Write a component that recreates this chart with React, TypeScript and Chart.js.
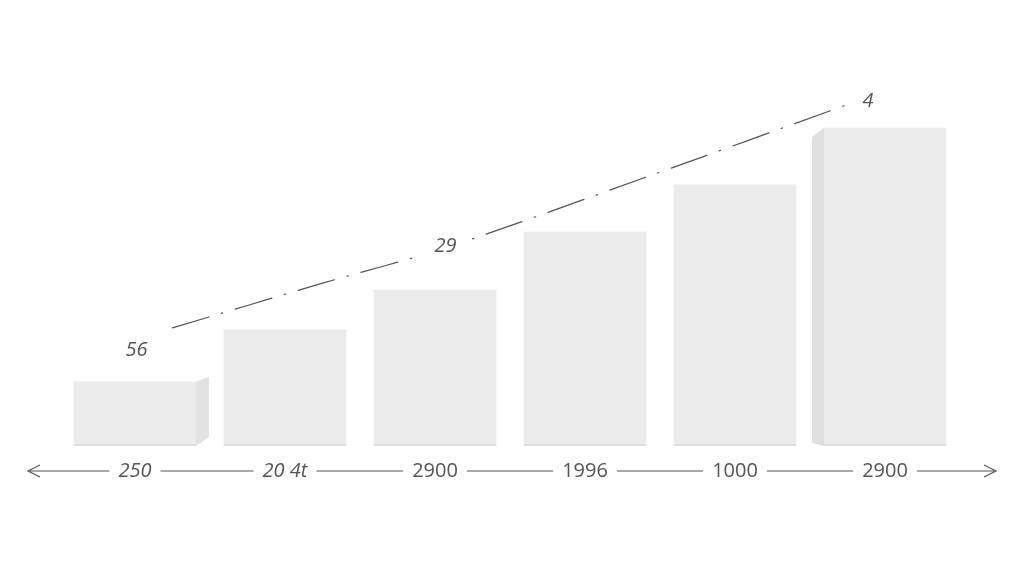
import { useEffect, useRef } from 'react';
import Chart from 'chart.js/auto';

// values (y scale 0..100)
const categories = ['250', '20 4t', '2900', '1996', '1000', '2900'];
const barValues = [15.8, 28.6, 38.4, 52.7, 64.3, 78.3];

// dash-dot trend line, x is a position on the category index scale
const trendX = [0.25, 1.25, 2.07, 3.39, 4.78];
const trendY = [29.1, 40.1, 48.8, 66.0, 84.5];
const trendLabels = ['56', '', '29', '', '4'];

const INK = '#555555';
const AXIS_Y = 471;

const boxPlugin = {
  id: 'boxFaces',
  afterDatasetsDraw(chart: any) {
    const ctx = chart.ctx;
    const meta = chart.getDatasetMeta(0);
    const bars = meta.data;
    if (!bars.length) return;
    ctx.save();
    // right face of the first box
    const a = bars[0].getProps(['x', 'y', 'base', 'width'], true);
    const ar = a.x + a.width / 2;
    ctx.fillStyle = '#e2e2e2';
    ctx.beginPath();
    ctx.moveTo(ar, a.y);
    ctx.lineTo(ar + 13, a.y - 5);
    ctx.lineTo(ar + 13, a.base - 9);
    ctx.lineTo(ar, a.base);
    ctx.closePath();
    ctx.fill();
    // left face of the last box
    const b = bars[bars.length - 1].getProps(['x', 'y', 'base', 'width'], true);
    const bl = b.x - b.width / 2;
    ctx.fillStyle = '#e0e0e0';
    ctx.beginPath();
    ctx.moveTo(bl, b.y);
    ctx.lineTo(bl - 12, b.y + 9);
    ctx.lineTo(bl - 12, b.base - 3);
    ctx.lineTo(bl, b.base);
    ctx.closePath();
    ctx.fill();
    // soft base shadow
    bars.forEach((el: any) => {
      const p = el.getProps(['x', 'base', 'width'], true);
      ctx.fillStyle = 'rgba(0,0,0,0.05)';
      ctx.fillRect(p.x - p.width / 2, p.base - 2, p.width, 2);
    });
    ctx.restore();
  },
};

const labelPlugin = {
  id: 'sketchLabels',
  afterDraw(chart: any) {
    const ctx = chart.ctx;
    const xs = chart.scales.x;
    ctx.save();
    ctx.strokeStyle = INK;
    ctx.fillStyle = INK;
    ctx.lineWidth = 1.2;
    ctx.textBaseline = 'middle';
    ctx.textAlign = 'center';

    // axis labels with the line broken around them
    const gaps: [number, number][] = [];
    chart.data.labels.forEach((lab: string, i: number) => {
      ctx.font = (i < 2 ? 'italic ' : '') + '20px "Open Sans"';
      const cx = xs.getPixelForValue(i);
      const w = ctx.measureText(lab).width;
      ctx.fillText(lab, cx, AXIS_Y);
      gaps.push([cx - w / 2 - 9, cx + w / 2 + 9]);
    });
    const left = 30;
    const right = 994;
    let from = left;
    ctx.beginPath();
    gaps.forEach(([g0, g1]) => {
      ctx.moveTo(from, AXIS_Y);
      ctx.lineTo(g0, AXIS_Y);
      from = g1;
    });
    ctx.moveTo(from, AXIS_Y);
    ctx.lineTo(right, AXIS_Y);
    // arrow heads
    ctx.moveTo(left + 10, AXIS_Y - 6);
    ctx.lineTo(left - 2, AXIS_Y);
    ctx.lineTo(left + 10, AXIS_Y + 6);
    ctx.moveTo(right - 10, AXIS_Y - 6);
    ctx.lineTo(right + 2, AXIS_Y);
    ctx.lineTo(right - 10, AXIS_Y + 6);
    ctx.stroke();

    // trend labels
    const pts = chart.getDatasetMeta(1).data;
    pts.forEach((pt: any, i: number) => {
      const txt = trendLabels[i];
      if (!txt) return;
      ctx.font = 'italic 20px "Open Sans"';
      let x = pt.x;
      let y = pt.y;
      if (i === 0) {
        x -= 36;
        y += 22;
      } else if (i === pts.length - 1) {
        x += 16;
        y -= 2;
      } else {
        const w = ctx.measureText(txt).width;
        ctx.fillStyle = '#ffffff';
        ctx.fillRect(x - w / 2 - 12, y - 14, w + 24, 24);
        ctx.fillStyle = INK;
        y -= 2;
      }
      ctx.fillText(txt, x, y);
    });
    ctx.restore();
  },
};

const App = () => {
  const chartRef = useRef<HTMLCanvasElement>(null);
  const chartInstance = useRef<Chart | null>(null);

  useEffect(() => {
    if (chartInstance.current) {
      chartInstance.current.destroy();
    }
    if (!chartRef.current) return;
    const ctx = chartRef.current.getContext('2d');
    if (!ctx) return;

    chartInstance.current = new Chart(ctx, {
      data: {
        labels: categories,
        datasets: [
          {
            type: 'bar',
            data: barValues,
            backgroundColor: '#ebebeb',
            borderWidth: 0,
            barThickness: 122,
            grouped: false,
          },
          {
            type: 'line',
            xAxisID: 'x2',
            data: trendX.map((x, i) => ({ x, y: trendY[i] })),
            borderColor: INK,
            borderWidth: 1.2,
            borderDash: [38, 13, 1.5, 13],
            borderCapStyle: 'round',
            tension: 0.3,
            pointRadius: 0,
            fill: false,
          },
        ],
      } as any,
      options: {
        responsive: true,
        maintainAspectRatio: false,
        animation: false,
        layout: { padding: { left: 60, right: 64, top: 40, bottom: 130 } },
        plugins: {
          legend: { display: false },
          tooltip: { enabled: false },
        },
        scales: {
          x: { type: 'category', display: false, offset: true },
          x2: { type: 'linear', display: false, min: -0.5, max: 5.5 },
          y: { type: 'linear', display: false, min: 0, max: 100 },
        },
      },
      plugins: [boxPlugin, labelPlugin],
    });

    return () => {
      if (chartInstance.current) {
        chartInstance.current.destroy();
        chartInstance.current = null;
      }
    };
  }, []);

  return (
    <div style={{ position: 'fixed', inset: 0, background: '#ffffff' }}>
      <canvas ref={chartRef}></canvas>
    </div>
  );
};

export default App;
